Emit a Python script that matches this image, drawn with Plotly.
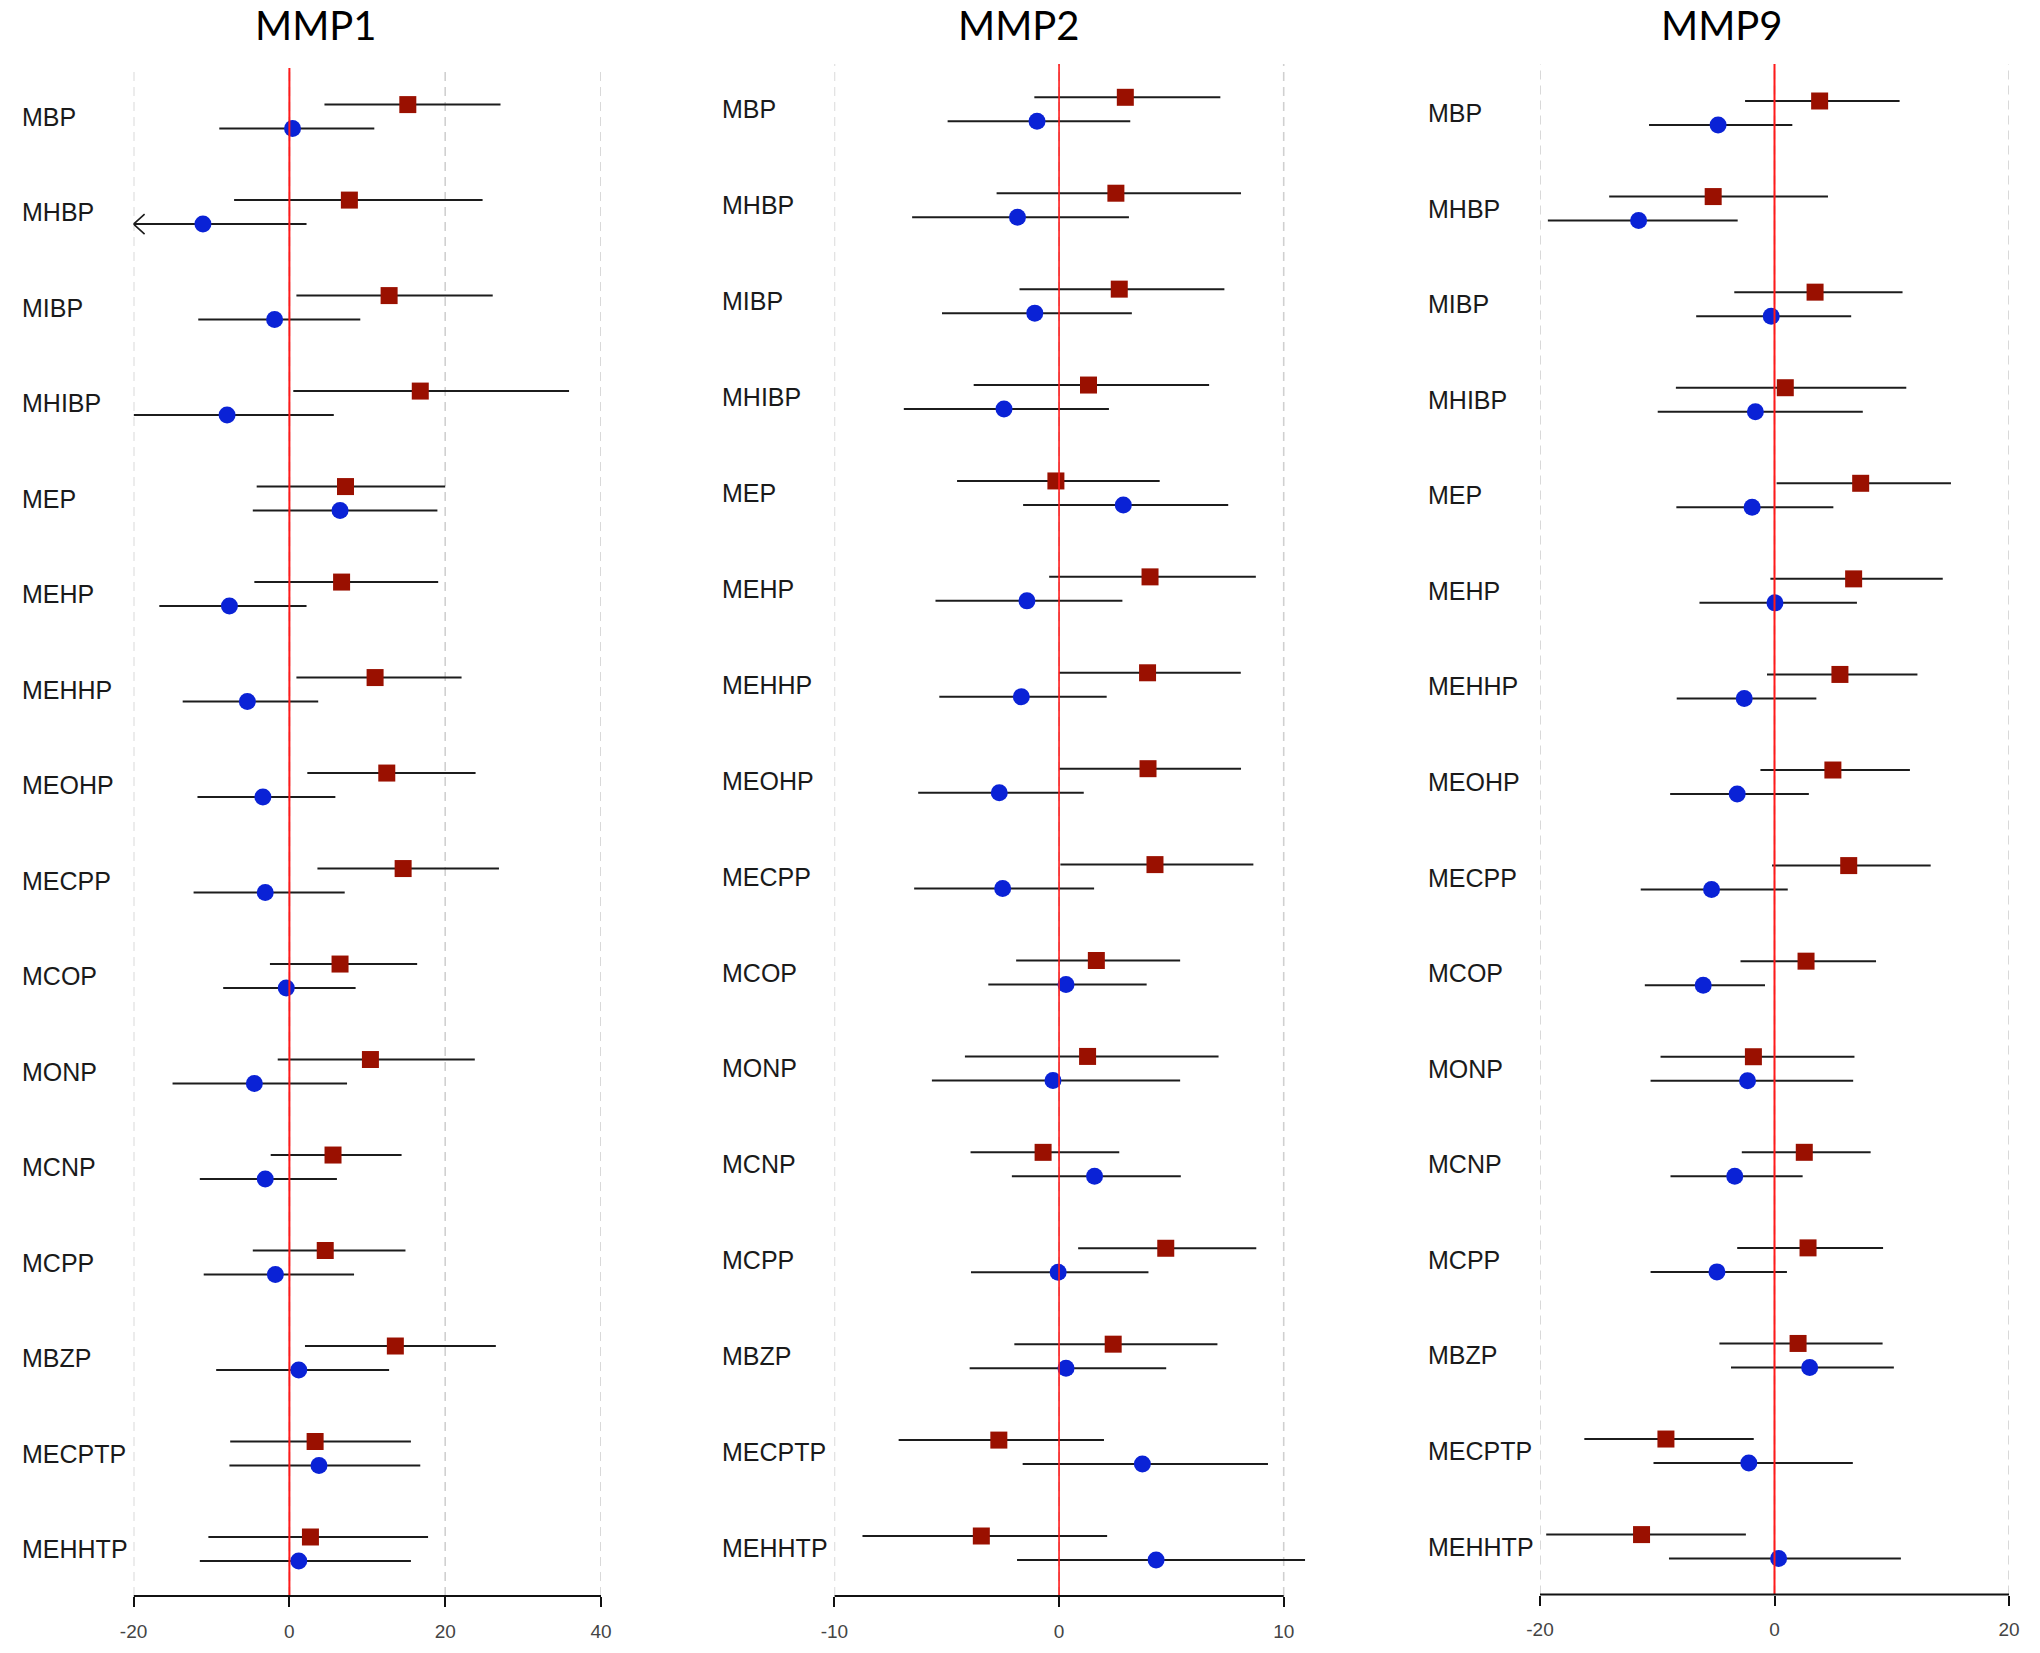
import plotly.graph_objects as go

W, H = 2040, 1653

compounds = ["MBP", "MHBP", "MIBP", "MHIBP", "MEP", "MEHP", "MEHHP", "MEOHP",
             "MECPP", "MCOP", "MONP", "MCNP", "MCPP", "MBZP", "MECPTP", "MEHHTP"]
panel_titles = ["MMP1", "MMP2", "MMP9"]

# ---- MMP1 ----
mmp1_red_est = [15.2, 7.7, 12.8, 16.8, 7.2, 6.7, 11.0, 12.5, 14.6, 6.5, 10.4, 5.6, 4.6, 13.6, 3.3, 2.7]
mmp1_red_lo = [4.5, -7.1, 0.9, 0.5, -4.2, -4.5, 0.9, 2.3, 3.6, -2.5, -1.5, -2.4, -4.7, 2.0, -7.6, -10.4]
mmp1_red_hi = [27.1, 24.8, 26.1, 35.9, 20.0, 19.1, 22.1, 23.9, 26.9, 16.4, 23.8, 14.4, 14.9, 26.5, 15.6, 17.8]
mmp1_blue_est = [0.4, -11.1, -1.9, -8.0, 6.5, -7.7, -5.4, -3.4, -3.1, -0.4, -4.5, -3.1, -1.8, 1.2, 3.8, 1.2]
mmp1_blue_lo = [-9.0, -24.0, -11.7, -20.0, -4.7, -16.7, -13.7, -11.8, -12.3, -8.5, -15.0, -11.5, -11.0, -9.4, -7.7, -11.5]
mmp1_blue_hi = [10.9, 2.2, 9.1, 5.7, 19.0, 2.2, 3.7, 5.9, 7.1, 8.5, 7.4, 6.1, 8.3, 12.8, 16.8, 15.6]

# ---- MMP2 ----
mmp2_red_est = [2.95, 2.53, 2.68, 1.31, -0.14, 4.05, 3.94, 3.96, 4.27, 1.66, 1.27, -0.71, 4.75, 2.41, -2.68, -3.46]
mmp2_red_lo = [-1.1, -2.78, -1.76, -3.8, -4.54, -0.44, 0.0, 0.0, 0.06, -1.91, -4.19, -3.94, 0.85, -1.99, -7.14, -8.75]
mmp2_red_hi = [7.18, 8.1, 7.36, 6.68, 4.48, 8.76, 8.09, 8.1, 8.65, 5.39, 7.1, 2.68, 8.78, 7.05, 2.0, 2.14]
mmp2_blue_est = [-0.98, -1.85, -1.08, -2.45, 2.86, -1.43, -1.68, -2.66, -2.51, 0.31, -0.27, 1.58, -0.04, 0.31, 3.71, 4.32]
mmp2_blue_lo = [-4.96, -6.54, -5.21, -6.91, -1.6, -5.5, -5.33, -6.27, -6.45, -3.15, -5.66, -2.1, -3.92, -3.98, -1.62, -1.87]
mmp2_blue_hi = [3.17, 3.11, 3.24, 2.22, 7.53, 2.82, 2.12, 1.1, 1.56, 3.9, 5.39, 5.42, 3.98, 4.77, 9.3, 10.95]

# ---- MMP9 ----
mmp9_red_est = [3.85, -5.23, 3.46, 0.92, 7.35, 6.75, 5.58, 4.98, 6.33, 2.69, -1.8, 2.54, 2.86, 2.01, -9.26, -11.34]
mmp9_red_lo = [-2.51, -14.1, -3.43, -8.41, 0.18, -0.35, -0.64, -1.2, -0.21, -2.9, -9.72, -2.79, -3.18, -4.7, -16.22, -19.47]
mmp9_red_hi = [10.67, 4.56, 10.92, 11.24, 15.05, 14.35, 12.19, 11.55, 13.32, 8.66, 6.82, 8.2, 9.26, 9.22, -1.77, -2.44]
mmp9_blue_est = [-4.81, -11.59, -0.28, -1.63, -1.91, 0.04, -2.58, -3.18, -5.37, -6.08, -2.3, -3.39, -4.91, 3.0, -2.19, 0.35]
mmp9_blue_lo = [-10.7, -19.33, -6.68, -9.96, -8.37, -6.4, -8.34, -8.9, -11.41, -11.06, -10.57, -8.87, -10.57, -3.71, -10.32, -9.0]
mmp9_blue_hi = [1.52, -3.14, 6.54, 7.53, 5.02, 7.03, 3.57, 2.93, 1.13, -0.81, 6.71, 2.4, 1.06, 10.18, 6.68, 10.78]

# tick values per panel
mmp1_ticks = [-20, 0, 20, 40]
mmp2_ticks = [-10, 0, 10]
mmp9_ticks = [-20, 0, 20]

series = [
    (mmp1_red_est, mmp1_red_lo, mmp1_red_hi, mmp1_blue_est, mmp1_blue_lo, mmp1_blue_hi, mmp1_ticks),
    (mmp2_red_est, mmp2_red_lo, mmp2_red_hi, mmp2_blue_est, mmp2_blue_lo, mmp2_blue_hi, mmp2_ticks),
    (mmp9_red_est, mmp9_red_lo, mmp9_red_hi, mmp9_blue_est, mmp9_blue_lo, mmp9_blue_hi, mmp9_ticks),
]

# layout styling (pixel geometry)
panel_geom = [
    dict(xrange=[-20, 40], px_first=133.6, px_last=601.0, grid_top=68, row0=116.6, rowN=1549.0,
         axis_y=1596, label_x=20, title_x=316, red_w=2.0),
    dict(xrange=[-10, 11.3], px_first=834.4, px_last=1283.7, grid_top=64, row0=109.3, rowN=1548.0,
         axis_y=1596, label_x=720, title_x=1019, red_w=1.6),
    dict(xrange=[-20, 20], px_first=1540.0, px_last=2009.0, grid_top=64, row0=113.0, rowN=1546.6,
         axis_y=1594.6, label_x=1426, title_x=1722, red_w=2.0),
]

RED = "#9a1000"
BLUE = "#0a22d6"
LINE = "#1c1c1c"
GRID = "#d0d0d0"
OFF_PX = 12

fig = go.Figure()
layout = dict(width=W, height=H, margin=dict(l=0, r=0, t=0, b=0, autoexpand=False),
              template="none",
              paper_bgcolor="white", plot_bgcolor="white", showlegend=False)
shapes = []
annotations = []
n = len(compounds)

for p, (ser, g) in enumerate(zip(series, panel_geom)):
    r_est, r_lo, r_hi, b_est, b_lo, b_hi, ticks = ser
    k = "" if p == 0 else str(p + 1)
    xa, ya = "x" + k, "y" + k
    ppu = (g["px_last"] - g["px_first"]) / (ticks[-1] - ticks[0])
    x0px = g["px_first"] - (ticks[0] - g["xrange"][0]) * ppu
    x1px = g["px_first"] + (g["xrange"][1] - ticks[0]) * ppu
    s = (g["rowN"] - g["row0"]) / (n - 1)
    yr = [(n - 1) + (g["axis_y"] - g["rowN"]) / s, -(g["row0"] - g["grid_top"]) / s]
    off = OFF_PX / s

    layout["xaxis" + k] = dict(
        domain=[x0px / W, x1px / W], range=g["xrange"], anchor=ya, automargin=False,
        tickmode="array", tickvals=ticks, ticktext=[str(t) for t in ticks],
        showgrid=False, zeroline=False, showline=False,
        ticks="outside", ticklen=10, tickwidth=1.6,
        tickcolor="#111111", ticklabelstandoff=8,
        tickfont=dict(family="Liberation Sans, Arial", size=19, color="#444444"),
    )
    layout["yaxis" + k] = dict(
        domain=[1 - g["axis_y"] / H, 1 - g["grid_top"] / H], range=yr, anchor=xa,
        automargin=False,
        showgrid=False, zeroline=False, showticklabels=False, showline=False, ticks="",
    )

    # dashed vertical grid lines at the tick values
    for t in ticks:
        shapes.append(dict(type="line", xref=xa, yref=ya + " domain", x0=t, x1=t, y0=0, y1=1,
                           line=dict(color=GRID, width=1.6, dash="9px,6px"), layer="below"))

    rows = list(range(n))
    for est, lo, hi, col, sym, sgn in [(r_est, r_lo, r_hi, RED, "square", -1),
                                       (b_est, b_lo, b_hi, BLUE, "circle", 1)]:
        yy = [r + sgn * off for r in rows]
        fig.add_trace(go.Scatter(
            x=est, y=yy, xaxis=xa, yaxis=ya, mode="markers",
            marker=dict(symbol=sym, size=17, color=col, line=dict(width=0)),
            error_x=dict(type="data", symmetric=False,
                         array=[h - e for h, e in zip(hi, est)],
                         arrayminus=[e - l for e, l in zip(est, lo)],
                         color=LINE, thickness=2, width=0),
            cliponaxis=False, hoverinfo="skip",
        ))
        # chevron for intervals clipped at the axis minimum
        xmin = g["xrange"][0]
        for e, l, y in zip(est, lo, yy):
            if l < xmin:
                w = 11 / ppu
                h = 10 / s
                fig.add_trace(go.Scatter(
                    x=[xmin + w, xmin, xmin + w], y=[y - h, y, y + h],
                    xaxis=xa, yaxis=ya, mode="lines",
                    line=dict(color=LINE, width=1.6), cliponaxis=False, hoverinfo="skip",
                ))

    # red reference line at zero
    shapes.append(dict(type="line", xref=xa, yref=ya + " domain", x0=0, x1=0, y0=0, y1=1,
                       line=dict(color="#ff1a1a", width=g["red_w"]), layer="above"))
    # bottom axis line between first and last tick
    shapes.append(dict(type="line", xref=xa, yref=ya + " domain", x0=ticks[0], x1=ticks[-1],
                       y0=0, y1=0, line=dict(color="#111111", width=2)))

    for i, name in enumerate(compounds):
        annotations.append(dict(
            text=name, x=g["label_x"] / W, xref="paper", y=i, yref=ya,
            xanchor="left", yanchor="middle", showarrow=False,
            font=dict(family="Liberation Sans, Arial", size=25, color="#1a1a1a"),
        ))
    annotations.append(dict(
        text=panel_titles[p], x=g["title_x"] / W, xref="paper", y=1, yref="paper",
        xanchor="center", yanchor="top", showarrow=False, borderpad=0,
        font=dict(family="Lato", size=40, color="#000000"),
    ))

layout["shapes"] = shapes
layout["annotations"] = annotations
fig.update_layout(**layout)
fig.write_html("out.html", config={"displayModeBar": False},
               post_script="document.body.style.margin='0';document.body.style.overflow='hidden';")
